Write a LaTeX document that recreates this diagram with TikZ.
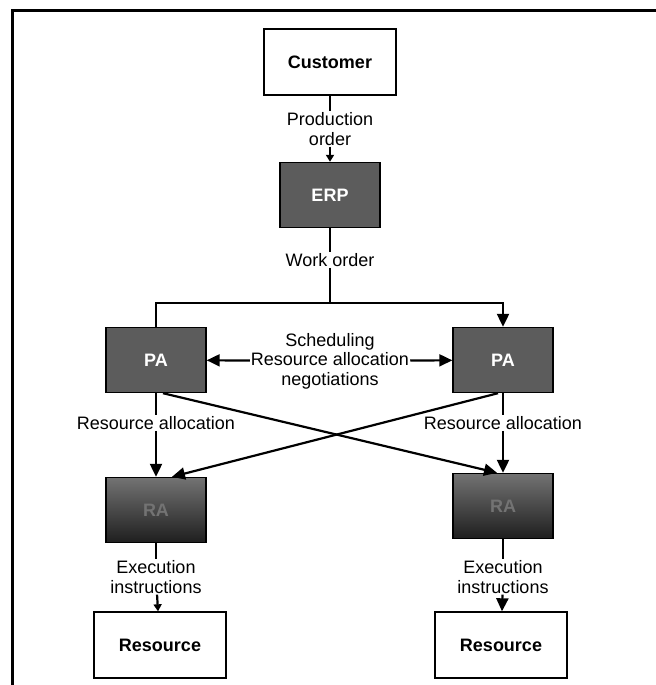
\documentclass[tikz,border=0pt]{standalone}
\usepackage{fontspec}
\setmainfont{Liberation Sans}
\usetikzlibrary{arrows.meta}

\newcommand{\diagfont}{\fontsize{18bp}{19.5bp}\selectfont}

\tikzset{
  plainbox/.style={draw, line width=1.4bp, fill=white, minimum width=132bp, minimum height=66bp, font=\diagfont\bfseries},
  agentbox/.style={draw, line width=1.4bp, fill=black!64, text=white, minimum width=100bp, minimum height=65bp, font=\diagfont\bfseries},
  resbox/.style={agentbox, fill=none, top color=black!55, bottom color=black!88, text=black!55},
  lbl/.style={fill=white, inner sep=1bp, align=center, font=\diagfont},
  link/.style={line width=2.2bp},
  tip/.style={link, -{Triangle[length=13bp,width=12bp]}},
  smalltip/.style={link, -{Triangle[length=7bp,width=8bp]}}
}

\begin{document}
\begin{tikzpicture}[x=1bp,y=-1bp]
  \useasboundingbox (0,0) rectangle (656,685);

  % frame
  \draw [line width=3bp] (12,685) -- (12,11) -- (656,11);

  % Boxes
  \node [plainbox] (cust) at (330,62) {Customer};
  \node [agentbox] (erp) at (330,195) {ERP};
  \node [agentbox] (lpa) at (156,360) {PA};
  \node [agentbox] (rpa) at (503,360) {PA};
  \node [resbox] (lra) at (156,510) {RA};
  \node [resbox] (rra) at (503,506) {RA};
  \node [plainbox] (lres) at (160,645) {Resource};
  \node [plainbox] (rres) at (501,645) {Resource};

  % Text Nodes
  \node [lbl] (prod) at (330,129) {Production\\order};
  \node [lbl] (work) at (330,260) {Work order};
  \node [lbl] (nego) at (330,361) {Scheduling\\Resource allocation\\negotiations};
  \coordinate (split) at (330,303);

  % order flow
  \draw [link] (cust) -- (prod);
  \draw [smalltip] (prod) -- (erp);
  \draw [link] (erp) -- (work);
  \draw [link] (work) -- (split);
  \draw [link] (split) -- (lpa.north |- split) -- (lpa.north);
  \draw [tip] (split) -- (rpa.north |- split) -- (rpa.north);
  \draw [tip] (nego) -- (lpa);
  \draw [tip] (nego) -- (rpa);

  % crossing allocations
  \draw [tip] ([xshift=7bp]lpa.south) -- ([xshift=-6bp]rra.north);
  \draw [tip] ([xshift=-5bp]rpa.south) -- ([xshift=16bp]lra.north);

  \node [lbl] (lalloc) at (156,423) {Resource allocation};
  \node [lbl] (ralloc) at (503,423) {Resource allocation};
  \draw [link] (lpa) -- (lalloc);
  \draw [tip] (lalloc) -- (lra);
  \draw [link] (rpa) -- (ralloc);
  \draw [tip] (ralloc) -- (rra);

  % execution
  \node [lbl] (lexec) at (156,577) {Execution\\instructions};
  \node [lbl] (rexec) at (503,577) {Execution\\instructions};
  \draw [link] (lra) -- (lexec);
  \draw [smalltip] (lexec) -- (lres);
  \draw [link] (rra) -- (rexec);
  \draw [tip] (rexec) -- (rres);
\end{tikzpicture}
\end{document}
